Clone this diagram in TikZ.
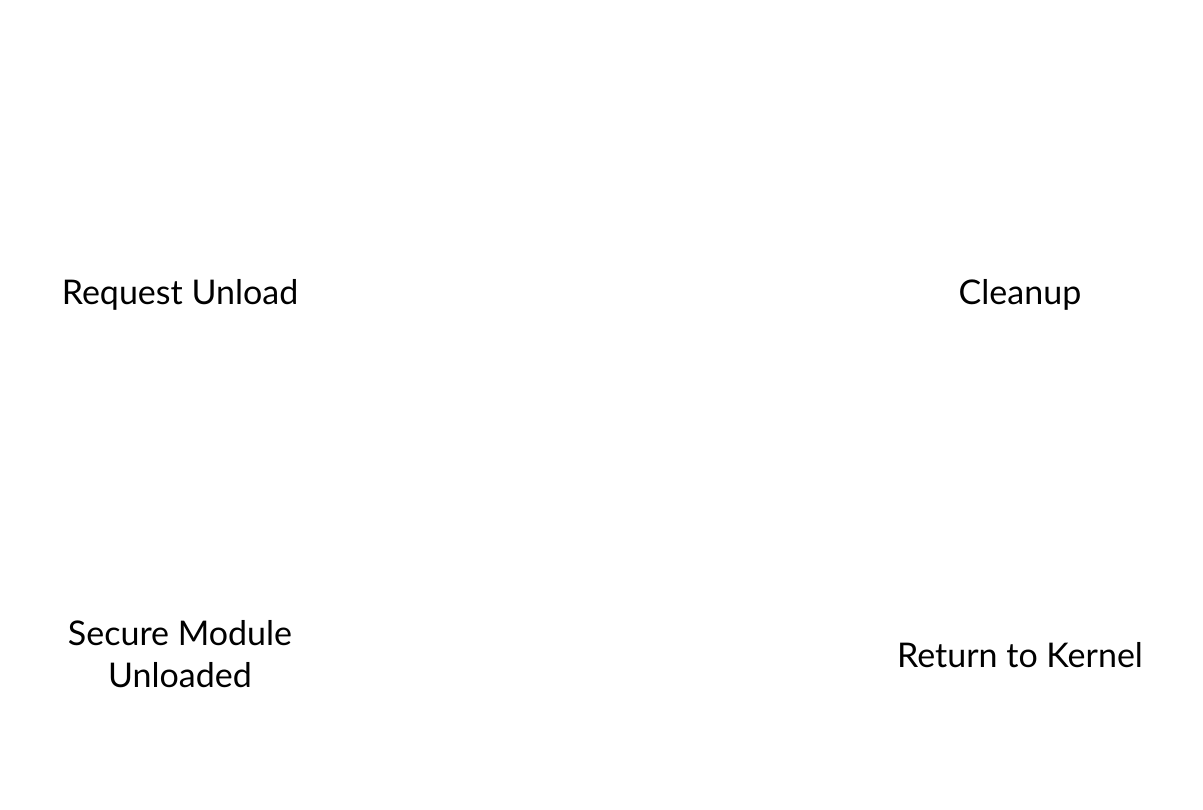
\documentclass[tikz,border=0pt]{standalone}
\usepackage{fontspec}
\setmainfont{Lato}
\begin{document}
\begin{tikzpicture}[x=1pt,y=-1pt,
  lbl/.style={align=center,inner sep=0pt,font=\fontsize{34}{42}\selectfont}]
\useasboundingbox[fill=white] (0,0) rectangle (1203,810);
\node[lbl] (req) at (180,295) {Request Unload};
\node[lbl] (clean) at (1020,295) {Cleanup};
\node[lbl] (sec) at (180,654) {Secure Module\\Unloaded};
\node[lbl] (ret) at (1020,655) {Return to Kernel};
\end{tikzpicture}
\end{document}
